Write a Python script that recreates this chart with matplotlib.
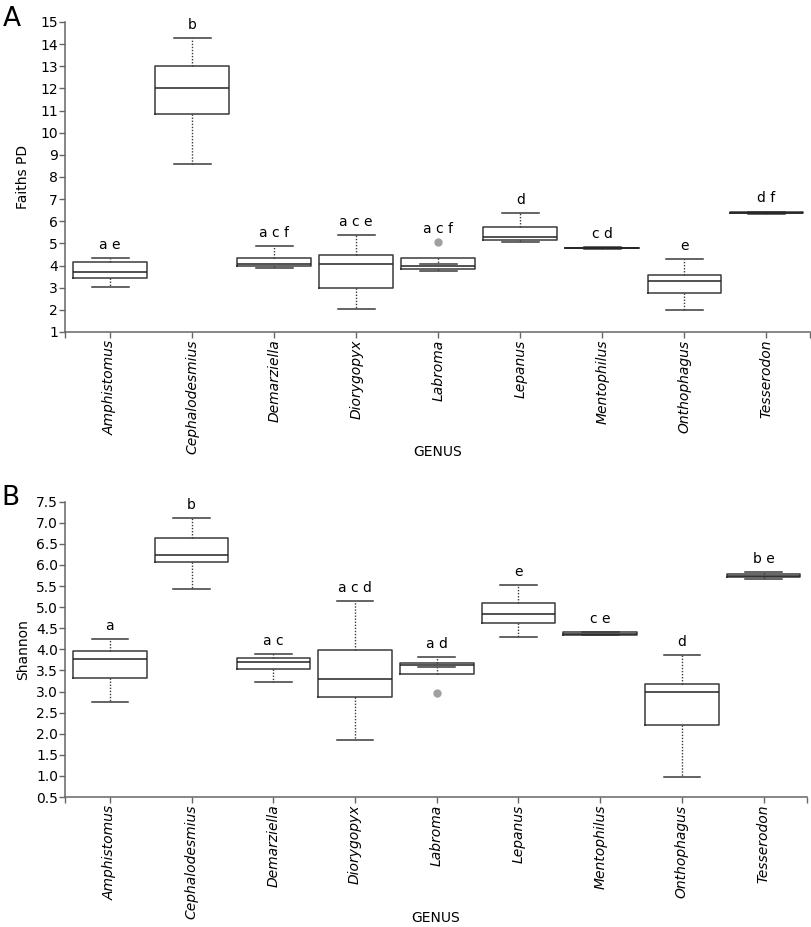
import matplotlib.pyplot as plt
import numpy as np

genera = ["Amphistomus", "Cephalodesmius", "Demarziella", "Diorygopyx", "Labroma",
          "Lepanus", "Mentophilus", "Onthophagus", "Tesserodon"]

# Faith's PD box stats
faith_whislo = [3.05, 8.59, 3.89, 2.02, 3.77, 5.06, 4.75, 1.98, 6.34]
faith_q1 = [3.42, 10.86, 4.00, 2.97, 3.86, 5.14, 4.79, 2.77, 6.38]
faith_med = [3.73, 12.03, 4.09, 4.09, 3.98, 5.27, 4.80, 3.29, 6.39]
faith_q3 = [4.17, 13.03, 4.36, 4.47, 4.35, 5.73, 4.81, 3.59, 6.40]
faith_whishi = [4.32, 14.27, 4.88, 5.39, 4.09, 6.36, 4.85, 4.30, 6.44]
faith_fliers = [[], [], [], [], [5.08], [], [], [], []]
faith_letters = ["a e", "b", "a c f", "a c e", "a c f", "d", "c d", "e", "d f"]

# Shannon box stats
shan_whislo = [2.76, 5.42, 3.23, 1.84, 3.59, 4.30, 4.33, 0.97, 5.67]
shan_q1 = [3.32, 6.07, 3.53, 2.87, 3.42, 4.62, 4.35, 2.21, 5.71]
shan_med = [3.76, 6.23, 3.69, 3.29, 3.62, 4.85, 4.37, 2.98, 5.75]
shan_q3 = [3.95, 6.64, 3.79, 3.99, 3.67, 5.09, 4.40, 3.19, 5.79]
shan_whishi = [4.24, 7.11, 3.88, 5.15, 3.83, 5.52, 4.42, 3.86, 5.83]
shan_fliers = [[], [], [], [], [2.97], [], [], [], []]
shan_letters = ["a", "b", "a c", "a c d", "a d", "e", "c e", "d", "b e"]

faith_ticks = np.arange(1, 16, 1)
shan_ticks = np.arange(0.5, 7.51, 0.5)

EDGE = "#3a3a3a"
SPINE = "#666666"


def draw_panel(ax, whislo, q1, med, q3, whishi, fliers, letters, ylabel, yticks, fmt, xlabel_y):
    stats = []
    for i, g in enumerate(genera):
        stats.append(dict(label=g, whislo=whislo[i], q1=q1[i], med=med[i],
                          q3=q3[i], whishi=whishi[i], fliers=fliers[i]))
    ax.bxp(stats, positions=range(len(genera)), widths=0.9, showfliers=True,
           boxprops=dict(color=EDGE, linewidth=1.1),
           medianprops=dict(color="#222222", linewidth=1.1),
           whiskerprops=dict(color=EDGE, linestyle=(0, (1, 1.2)), linewidth=1),
           capprops=dict(color=EDGE, linewidth=1.1),
           flierprops=dict(marker="o", markerfacecolor="#a0a0a0",
                           markeredgecolor="#a0a0a0", markersize=5))

    for i, lab in enumerate(letters):
        top = max([whishi[i], q3[i]] + fliers[i])
        ax.annotate(lab, (i, top), xytext=(0, 6.5), textcoords="offset points",
                    ha="center", va="baseline", fontsize=10)

    ax.set_xlim(-0.55, len(genera) - 0.47)
    ax.set_ylim(yticks[0], yticks[-1])
    ax.set_yticks(yticks)
    ax.set_yticklabels([fmt.format(t) for t in yticks])
    ax.set_xticks(range(len(genera)))
    ax.set_xticklabels(genera, rotation=90, fontstyle="italic", fontsize=10)
    ax.set_xticks(list(ax.get_xlim()), minor=True)

    for s in ["top", "right"]:
        ax.spines[s].set_visible(False)
    for s in ["left", "bottom"]:
        ax.spines[s].set_color(SPINE)
        ax.spines[s].set_linewidth(1.1)
    ax.tick_params(which="both", direction="out", length=4, color=SPINE, width=1)
    ax.tick_params(axis="y", labelsize=10, pad=1)
    ax.tick_params(axis="x", pad=1.5)

    ax.set_ylabel(ylabel, fontsize=10, va="center")
    ax.yaxis.set_label_coords(-0.056, 0.5)
    ax.set_xlabel("GENUS", fontsize=10, va="center")
    ax.xaxis.set_label_coords(0.5, xlabel_y)


fig = plt.figure(figsize=(8.12, 9.27), dpi=100)
ax_a = fig.add_axes([0.080, 0.6419, 0.9175, 0.3344])
ax_b = fig.add_axes([0.080, 0.1402, 0.9138, 0.3186])

draw_panel(ax_a, faith_whislo, faith_q1, faith_med, faith_q3, faith_whishi,
           faith_fliers, faith_letters, "Faiths PD", faith_ticks, "{:.0f}", -0.387)
draw_panel(ax_b, shan_whislo, shan_q1, shan_med, shan_q3, shan_whishi,
           shan_fliers, shan_letters, "Shannon", shan_ticks, "{:.1f}", -0.409)

fig.text(0.004, 1 - 6 / 927, "A", fontsize=19, va="top", ha="left")
fig.text(0.002, 1 - 485 / 927, "B", fontsize=19, va="top", ha="left")

fig.savefig("out.png", dpi=100)
